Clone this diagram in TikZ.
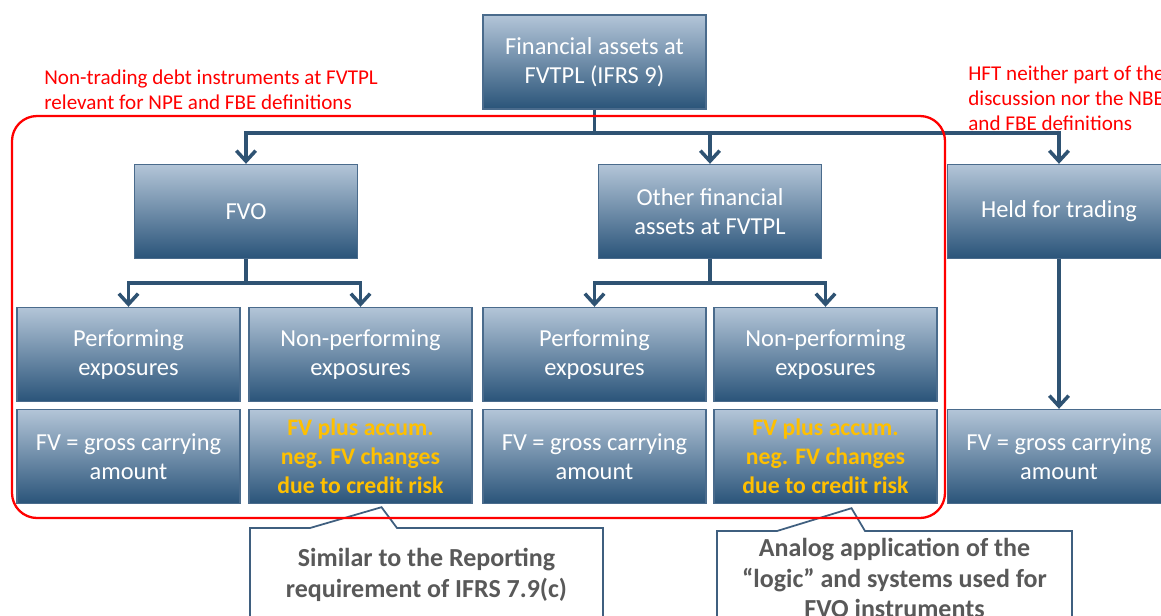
\documentclass[tikz,border=0pt]{standalone}
\usepackage{fontspec}
\setmainfont{Carlito}
\usetikzlibrary{arrows.meta,calc}
\definecolor{boxtop}{HTML}{B3C5D8}
\definecolor{boxmid}{HTML}{7F98B2}
\definecolor{boxbot}{HTML}{2A5479}
\definecolor{boxline}{HTML}{4A6B8C}
\definecolor{arrowblue}{HTML}{2F5373}
\definecolor{calloutline}{HTML}{3F5F7F}
\definecolor{calltext}{HTML}{595959}
\definecolor{npeorange}{HTML}{FFC000}
\tikzset{
  block/.style={draw=boxline, line width=0.8pt, top color=boxtop, middle color=boxmid, bottom color=boxbot,
    text=white, align=center, minimum width=4.46cm, minimum height=1.88cm, inner sep=2pt,
    font=\fontsize{13.9}{16.6}\selectfont},
  valtext/.style={text=npeorange, font=\bfseries\fontsize{13.5}{16.6}\selectfont},
  link/.style={draw=arrowblue, line width=2pt, -{Straight Barb[length=6pt,width=11pt]}},
  note/.style={text=red, align=left, inner sep=0pt, font=\fontsize{12}{14.2}\selectfont},
  callout/.style={draw=calloutline, line width=1pt, fill=white},
  calltxt/.style={text=calltext, align=center, font=\bfseries\fontsize{14.8}{17.6}\selectfont}
}
\begin{document}
\begin{tikzpicture}[x=0.02cm, y=-0.02cm]
    \useasboundingbox (0,0) rectangle (1161,616);
    % top level
    \node[block] (fin) at (594.5,62) {Financial assets at\\FVTPL (IFRS 9)};
    \node[block] (fvo) at (246,211.5) {FVO};
    \node[block] (oth) at (710,211.5) {Other financial\\assets at FVTPL};
    \node[block] (hft) at (1059,211.5) {Held for trading};
    % exposures
    \node[block] (fvoperf) at (128.5,354.5) {Performing\\exposures};
    \node[block] (fvonpe) at (360.5,354.5) {Non-performing\\exposures};
    \node[block] (othperf) at (594.5,354.5) {Performing\\exposures};
    \node[block] (othnpe) at (825.5,354.5) {Non-performing\\exposures};
    % values
    \node[block] (fvoperfval) at (128.5,456.5) {FV = gross carrying\\amount};
    \node[block, valtext] (fvonpeval) at (360.5,456.5) {FV plus accum.\\neg. FV changes\\due to credit risk};
    \node[block] (othperfval) at (594.5,456.5) {FV = gross carrying\\amount};
    \node[block, valtext] (othnpeval) at (825.5,456.5) {FV plus accum.\\neg. FV changes\\due to credit risk};
    \node[block] (hftval) at (1059,456.5) {FV = gross carrying\\amount};

    \coordinate (split) at (594.5,133);
    \coordinate (fvosplit) at (246,283);
    \coordinate (othsplit) at (710,283);
    \draw[link] (fin.south) -- (split) -| (fvo.north);
    \draw[link] (split) -| (oth.north);
    \draw[link] (split) -| (hft.north);
    \draw[link] (fvo.south) -- (fvosplit) -| (fvoperf.north);
    \draw[link] (fvosplit) -| (fvonpe.north);
    \draw[link] (oth.south) -- (othsplit) -| (othperf.north);
    \draw[link] (othsplit) -| (othnpe.north);
    \draw[link] (hft.south) -- (hftval.north);

    % notes
    \node[note, anchor=west] (nontrading) at (44,90) {Non-trading debt instruments at FVTPL\\relevant for NPE and FBE definitions};
    \node[note, anchor=west] (hftnote) at (968,98.5) {HFT neither part of the\\discussion nor the NBE\\and FBE definitions};

    % callouts
    \coordinate (tipa) at ($(fvonpeval.south)+(21,3)$);
    \coordinate (tipb) at ($(othnpeval.south)+(26,4)$);
    \draw[callout] (250,640) -- (250,528) -- (310,528) -- (tipa) -- (397,528) -- (603,528) -- (603,640);
    \draw[callout] (717,640) -- (717,531) -- (777,531) -- (tipb) -- (865,531) -- (1072,531) -- (1072,640);
    \node[calltxt] (reporting) at (426.5,574.5) {Similar to the Reporting\\requirement of IFRS 7.9(c)};
    \node[calltxt] (analog) at (894.5,578) {Analog application of the\\``logic'' and systems used for\\FVO instruments};

    \draw[red, line width=1.3pt, rounded corners=0.5cm] (12,116) rectangle (945,518);
\end{tikzpicture}
\end{document}
